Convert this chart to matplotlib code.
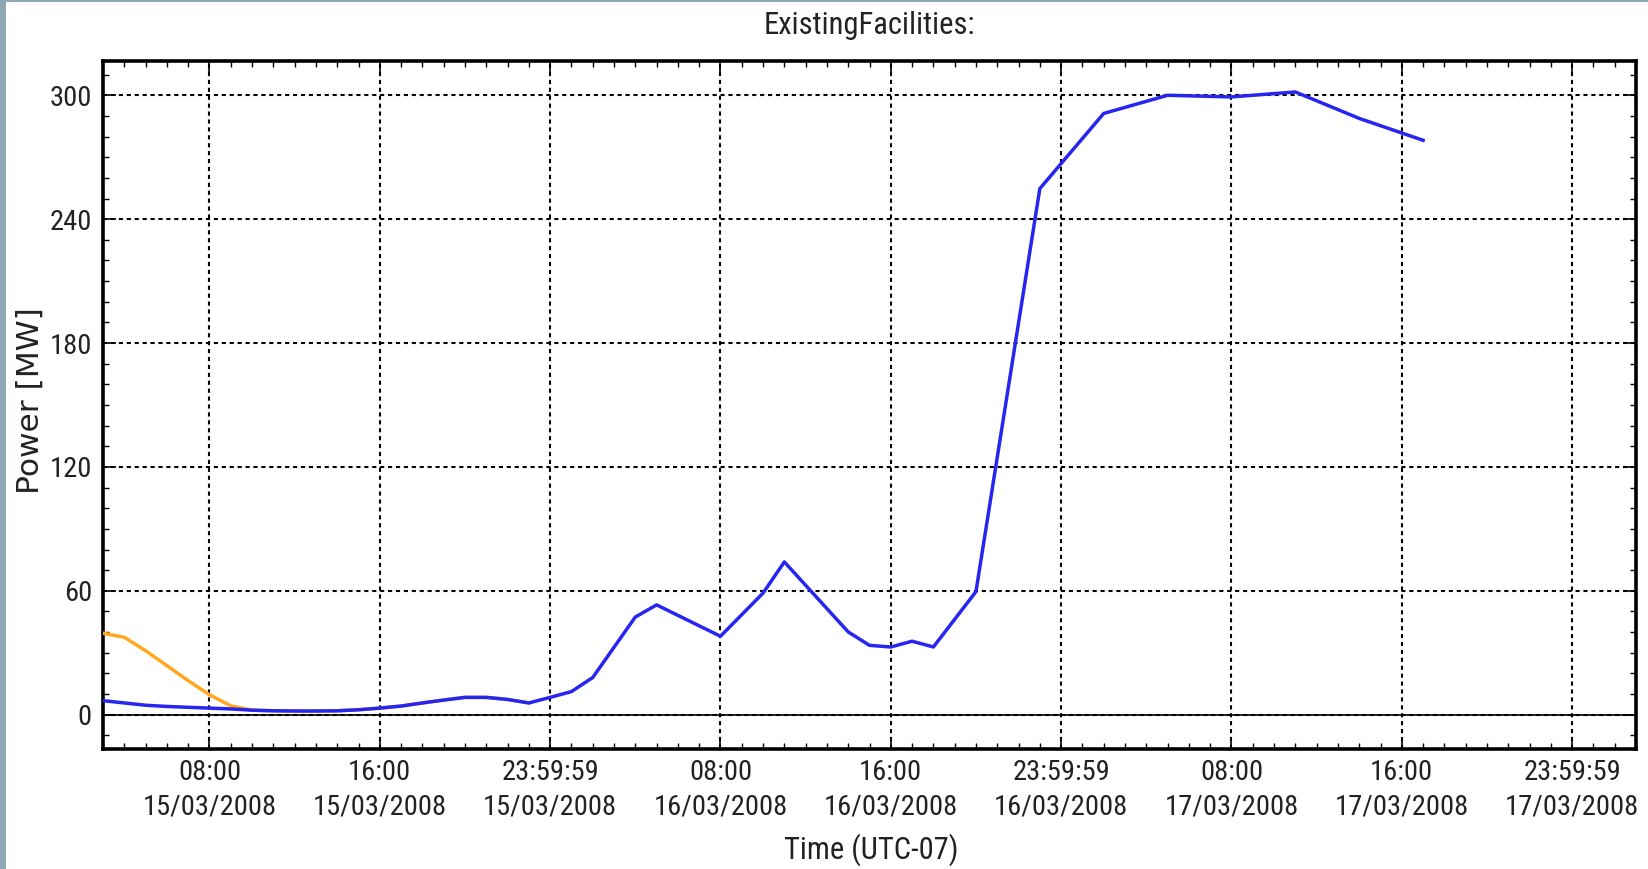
import numpy as np
import pandas as pd
import matplotlib
matplotlib.use('Agg')
import matplotlib.pyplot as plt
import matplotlib.dates as mdates
from matplotlib.patches import Rectangle

# hours after 15/03/2008 00:00 (UTC-07)
blue_hours = [3, 4, 5, 6, 7, 8, 9, 10, 11, 12, 13, 14, 15, 16, 17, 18, 19, 20, 21, 22, 23, 24, 25, 26,
              28, 29, 32, 34, 35, 38, 39, 40, 41, 42, 44, 47, 50, 53, 56, 59, 62, 65]
blue_mw = [6.8, 5.7, 4.6, 4.0, 3.6, 3.2, 2.8, 2.2, 1.9, 1.8, 1.8, 1.9, 2.4, 3.2, 4.2, 5.7, 7.1, 8.4, 8.4, 7.4,
           5.7, 8.4, 11.2, 18.0, 47.3, 53.2, 38.0, 58.9, 74.0, 40.1, 33.6, 32.8, 35.6, 32.8, 59.6,
           254.8, 291.2, 300.0, 299.2, 301.6, 288.8, 278.2]

orange_hours = [3, 4, 5, 6, 7, 8, 9, 10, 11, 12, 13, 14, 15, 16, 17, 18, 19, 20, 21, 22, 23]
orange_mw = [39.5, 37.5, 31.0, 23.8, 16.5, 9.7, 4.3, 2.2, 1.9, 1.8, 1.8, 1.9, 2.4, 3.2, 4.2, 5.7,
             7.1, 8.4, 8.4, 7.4, 5.7]

tick_times = ['2008-03-15 08:00:00', '2008-03-15 16:00:00', '2008-03-15 23:59:59',
              '2008-03-16 08:00:00', '2008-03-16 16:00:00', '2008-03-16 23:59:59',
              '2008-03-17 08:00:00', '2008-03-17 16:00:00', '2008-03-17 23:59:59']
y_ticks = [0, 60, 120, 180, 240, 300]

base = pd.Timestamp('2008-03-15 00:00')
blue_t = [(base + pd.Timedelta(hours=h)).to_pydatetime() for h in blue_hours]
orange_t = [(base + pd.Timedelta(hours=h)).to_pydatetime() for h in orange_hours]
ticks = [pd.Timestamp(t).to_pydatetime() for t in tick_times]

narrow = ['Roboto Condensed', 'DejaVu Sans']
txt = '#222222'

fig = plt.figure(figsize=(16.49, 8.69), dpi=100)
ax = fig.add_axes([103/1649, 1-749/869, (1636-103)/1649, (749-61)/869])

ax.plot(orange_t, orange_mw, color='#ffa820', lw=2.5, zorder=3)
ax.plot(blue_t, blue_mw, color='#2626f0', lw=2.5, zorder=4)
ax.axhline(0, color='k', lw=1.2, zorder=2)

ax.set_xlim(pd.Timestamp('2008-03-15 03:00').to_pydatetime(), pd.Timestamp('2008-03-18 03:00').to_pydatetime())
ax.set_ylim(-16.6, 316.6)

ax.set_xticks(ticks)
ax.set_xticklabels([t.strftime('%H:%M:%S\n%d/%m/%Y') if t.second else t.strftime('%H:%M\n%d/%m/%Y') for t in ticks])
ax.xaxis.set_minor_locator(mdates.HourLocator())
ax.set_yticks(y_ticks)
ax.yaxis.set_minor_locator(matplotlib.ticker.MultipleLocator(10))

ax.tick_params(which='both', direction='in', top=True, right=True, colors='k', labelcolor=txt)
ax.tick_params(which='major', length=9, width=1.2, labelsize=20.5)
ax.tick_params(which='minor', length=4.5, width=1.0)
ax.tick_params(axis='x', pad=7)
ax.tick_params(axis='y', pad=8)
for lab in ax.get_xticklabels() + ax.get_yticklabels():
    lab.set_family(narrow)
    lab.set_linespacing(1.35)

ax.grid(True, which='major', color='k', linestyle=(0, (2.0, 1.8)), linewidth=1.5)
for s in ax.spines.values():
    s.set_linewidth(2.6)

fig.text(869.5/1649, 1-25/869, 'ExistingFacilities:', ha='center', va='center',
         fontsize=22, family=narrow, color=txt)
fig.text(871/1649, 1-850/869, 'Time (UTC-07)', ha='center', va='center',
         fontsize=22, family=narrow, color=txt)
fig.text(30/1649, 1-401/869, 'Power [MW]', ha='center', va='center', rotation=90,
         fontsize=22.5, family='DejaVu Sans', color=txt)

# grey-blue border of the screenshot
fig.add_artist(Rectangle((0, 0), 6/1649, 1, transform=fig.transFigure, color='#8fa9b4', lw=0))
fig.add_artist(Rectangle((0, 1-2/869), 1, 2/869, transform=fig.transFigure, color='#8fa9b4', lw=0))

fig.savefig('out.png', dpi=100)
